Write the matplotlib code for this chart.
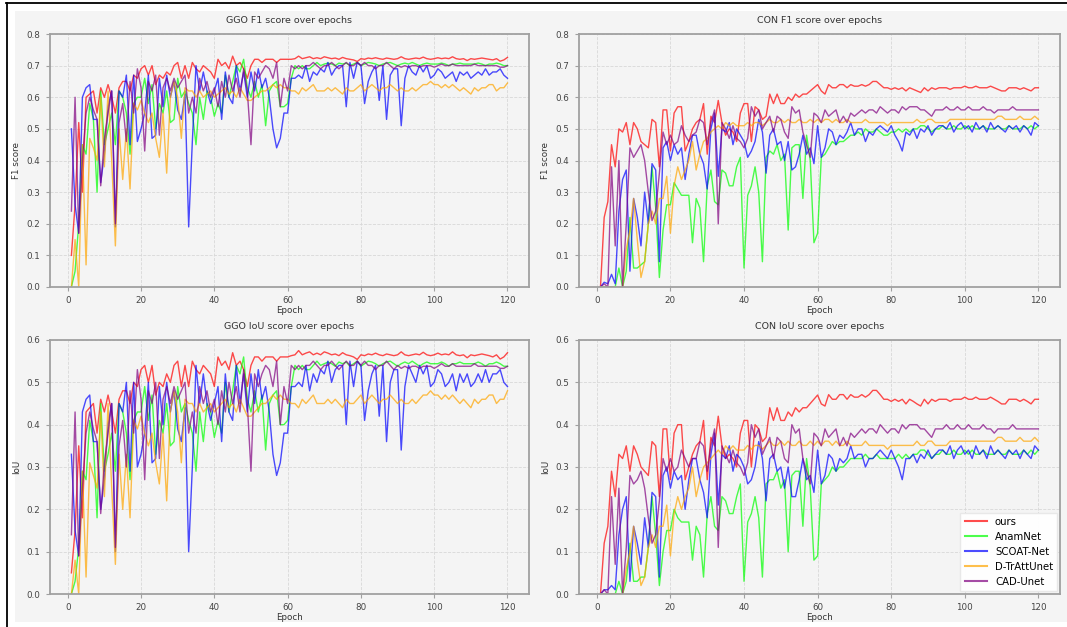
import numpy as np
import matplotlib
matplotlib.use("Agg")
import matplotlib.pyplot as plt
from matplotlib.patches import Rectangle
from matplotlib.lines import Line2D

epochs = np.arange(1, 121)
models = ["ours", "AnamNet", "SCOAT-Net", "D-TrAttUnet", "CAD-Unet"]
colors = ["red", "lime", "blue", "orange", "purple"]

# ---------------- GGO F1 ----------------
ggo_f1_ours = [0.10, 0.26, 0.52, 0.30, 0.60, 0.61, 0.62, 0.55, 0.63, 0.60,
               0.64, 0.60, 0.55, 0.63, 0.65, 0.65, 0.62, 0.67, 0.66, 0.69,
               0.70, 0.67, 0.70, 0.64, 0.67, 0.66, 0.68, 0.67, 0.70, 0.71,
               0.66, 0.70, 0.66, 0.71, 0.69, 0.68, 0.70, 0.69, 0.68, 0.66,
               0.72, 0.70, 0.71, 0.69, 0.73, 0.70, 0.71, 0.69, 0.66, 0.70,
               0.72, 0.72, 0.71, 0.72, 0.72, 0.72, 0.71, 0.72, 0.72, 0.72,
               0.720, 0.722, 0.730, 0.722, 0.725, 0.728, 0.722, 0.725, 0.722, 0.728,
               0.725, 0.722, 0.724, 0.720, 0.726, 0.722, 0.720, 0.718, 0.713, 0.722,
               0.720, 0.724, 0.722, 0.725, 0.722, 0.720, 0.724, 0.722, 0.720, 0.722,
               0.728, 0.722, 0.720, 0.722, 0.724, 0.722, 0.727, 0.722, 0.720, 0.722,
               0.725, 0.722, 0.724, 0.722, 0.728, 0.722, 0.720, 0.722, 0.716, 0.722,
               0.720, 0.722, 0.724, 0.722, 0.720, 0.718, 0.722, 0.714, 0.718, 0.726]
ggo_f1_anam = [0.00, 0.05, 0.20, 0.45, 0.42, 0.58, 0.53, 0.30, 0.62, 0.45,
               0.50, 0.55, 0.45, 0.62, 0.60, 0.55, 0.42, 0.58, 0.60, 0.60,
               0.66, 0.58, 0.64, 0.50, 0.58, 0.55, 0.62, 0.52, 0.53, 0.66,
               0.60, 0.62, 0.58, 0.55, 0.45, 0.60, 0.53, 0.62, 0.60, 0.54,
               0.58, 0.55, 0.67, 0.60, 0.65, 0.70, 0.68, 0.72, 0.63, 0.60,
               0.65, 0.60, 0.64, 0.51, 0.62, 0.64, 0.65, 0.57, 0.57, 0.58,
               0.66, 0.70, 0.69, 0.70, 0.69, 0.69, 0.70, 0.71, 0.70, 0.705,
               0.708, 0.705, 0.70, 0.708, 0.705, 0.708, 0.70, 0.705, 0.71, 0.70,
               0.705, 0.71, 0.708, 0.705, 0.70, 0.705, 0.708, 0.71, 0.705, 0.70,
               0.705, 0.708, 0.705, 0.71, 0.705, 0.70, 0.705, 0.708, 0.705, 0.705,
               0.705, 0.708, 0.705, 0.70, 0.705, 0.705, 0.708, 0.705, 0.705, 0.705,
               0.705, 0.708, 0.705, 0.70, 0.705, 0.705, 0.708, 0.705, 0.70, 0.70]
ggo_f1_scoat = [0.50, 0.26, 0.17, 0.60, 0.63, 0.64, 0.53, 0.53, 0.33, 0.42,
                0.57, 0.62, 0.19, 0.62, 0.60, 0.67, 0.45, 0.67, 0.46, 0.50,
                0.55, 0.67, 0.47, 0.48, 0.66, 0.57, 0.67, 0.60, 0.65, 0.56,
                0.53, 0.61, 0.19, 0.46, 0.70, 0.62, 0.68, 0.62, 0.58, 0.62,
                0.66, 0.53, 0.68, 0.60, 0.58, 0.70, 0.62, 0.68, 0.60, 0.68,
                0.62, 0.69, 0.63, 0.66, 0.60, 0.50, 0.44, 0.47, 0.55, 0.55,
                0.66, 0.66, 0.67, 0.66, 0.70, 0.65, 0.68, 0.67, 0.69, 0.68,
                0.71, 0.67, 0.69, 0.70, 0.70, 0.57, 0.71, 0.66, 0.71, 0.70,
                0.58, 0.65, 0.68, 0.70, 0.59, 0.70, 0.53, 0.67, 0.69, 0.69,
                0.51, 0.66, 0.70, 0.68, 0.67, 0.70, 0.68, 0.70, 0.66, 0.67,
                0.69, 0.68, 0.66, 0.67, 0.68, 0.65, 0.68, 0.67, 0.68, 0.66,
                0.67, 0.68, 0.67, 0.69, 0.67, 0.68, 0.68, 0.69, 0.67, 0.66]
ggo_f1_dtr = [0.00, 0.15, 0.00, 0.45, 0.07, 0.47, 0.44, 0.40, 0.60, 0.38,
              0.62, 0.40, 0.13, 0.50, 0.34, 0.50, 0.31, 0.58, 0.56, 0.59,
              0.55, 0.52, 0.55, 0.47, 0.41, 0.55, 0.36, 0.60, 0.65, 0.60,
              0.47, 0.63, 0.62, 0.62, 0.60, 0.62, 0.60, 0.61, 0.62, 0.60,
              0.61, 0.62, 0.63, 0.61, 0.62, 0.60, 0.63, 0.61, 0.59, 0.59,
              0.60, 0.61, 0.62, 0.62, 0.63, 0.64, 0.63, 0.64, 0.63, 0.63,
              0.62, 0.62, 0.61, 0.63, 0.62, 0.63, 0.64, 0.62, 0.62, 0.62,
              0.63, 0.62, 0.63, 0.62, 0.61, 0.63, 0.62, 0.62, 0.63, 0.64,
              0.62, 0.63, 0.64, 0.63, 0.62, 0.63, 0.63, 0.64, 0.63, 0.62,
              0.63, 0.62, 0.62, 0.63, 0.62, 0.63, 0.64, 0.64, 0.65, 0.64,
              0.64, 0.63, 0.64, 0.63, 0.64, 0.63, 0.62, 0.63, 0.62, 0.61,
              0.63, 0.62, 0.63, 0.63, 0.64, 0.64, 0.62, 0.63, 0.63, 0.645]
ggo_f1_cad = [0.24, 0.60, 0.17, 0.40, 0.55, 0.60, 0.56, 0.53, 0.32, 0.47,
              0.55, 0.62, 0.20, 0.52, 0.58, 0.46, 0.65, 0.55, 0.69, 0.63,
              0.43, 0.65, 0.62, 0.67, 0.48, 0.63, 0.66, 0.62, 0.66, 0.63,
              0.65, 0.67, 0.55, 0.60, 0.55, 0.66, 0.62, 0.65, 0.60, 0.63,
              0.57, 0.65, 0.60, 0.67, 0.62, 0.66, 0.60, 0.69, 0.62, 0.45,
              0.68, 0.66, 0.68, 0.70, 0.69, 0.66, 0.71, 0.57, 0.66, 0.62,
              0.70, 0.69, 0.70, 0.69, 0.70, 0.70, 0.71, 0.70, 0.69, 0.70,
              0.70, 0.71, 0.70, 0.69, 0.70, 0.71, 0.70, 0.70, 0.71, 0.70,
              0.71, 0.70, 0.70, 0.69, 0.70, 0.70, 0.71, 0.70, 0.69, 0.70,
              0.695, 0.70, 0.695, 0.70, 0.70, 0.695, 0.70, 0.70, 0.70, 0.695,
              0.70, 0.705, 0.70, 0.70, 0.705, 0.70, 0.70, 0.70, 0.70, 0.70,
              0.705, 0.70, 0.70, 0.70, 0.70, 0.70, 0.70, 0.695, 0.695, 0.70]

# ---------------- GGO IoU ----------------
ggo_iou_ours = [0.05, 0.15, 0.35, 0.18, 0.43, 0.44, 0.45, 0.38, 0.46, 0.43,
                0.47, 0.43, 0.38, 0.46, 0.48, 0.48, 0.45, 0.50, 0.49, 0.53,
                0.54, 0.50, 0.54, 0.47, 0.50, 0.49, 0.52, 0.50, 0.54, 0.55,
                0.49, 0.54, 0.49, 0.55, 0.53, 0.52, 0.54, 0.53, 0.52, 0.49,
                0.56, 0.54, 0.55, 0.53, 0.57, 0.54, 0.55, 0.53, 0.49, 0.54,
                0.56, 0.56, 0.55, 0.56, 0.56, 0.56, 0.55, 0.56, 0.56, 0.56,
                0.563, 0.565, 0.575, 0.565, 0.569, 0.572, 0.565, 0.569, 0.565, 0.572,
                0.569, 0.565, 0.567, 0.563, 0.570, 0.565, 0.563, 0.560, 0.554, 0.565,
                0.563, 0.567, 0.565, 0.569, 0.565, 0.563, 0.567, 0.565, 0.563, 0.565,
                0.572, 0.565, 0.563, 0.565, 0.567, 0.565, 0.571, 0.565, 0.563, 0.565,
                0.569, 0.565, 0.567, 0.565, 0.572, 0.565, 0.563, 0.565, 0.558, 0.565,
                0.563, 0.565, 0.567, 0.565, 0.563, 0.560, 0.565, 0.555, 0.560, 0.570]
ggo_iou_anam = [0.00, 0.03, 0.11, 0.29, 0.27, 0.41, 0.36, 0.18, 0.45, 0.29,
                0.33, 0.38, 0.29, 0.45, 0.43, 0.38, 0.27, 0.41, 0.43, 0.43,
                0.49, 0.41, 0.47, 0.33, 0.41, 0.38, 0.45, 0.35, 0.36, 0.49,
                0.43, 0.45, 0.41, 0.38, 0.29, 0.43, 0.36, 0.45, 0.43, 0.37,
                0.41, 0.38, 0.50, 0.43, 0.48, 0.54, 0.52, 0.56, 0.46, 0.43,
                0.48, 0.43, 0.47, 0.34, 0.45, 0.47, 0.48, 0.40, 0.40, 0.41,
                0.49, 0.54, 0.53, 0.54, 0.53, 0.53, 0.54, 0.55, 0.54, 0.544,
                0.548, 0.544, 0.538, 0.548, 0.544, 0.548, 0.538, 0.544, 0.550, 0.538,
                0.544, 0.550, 0.548, 0.544, 0.538, 0.544, 0.548, 0.550, 0.544, 0.538,
                0.544, 0.548, 0.544, 0.550, 0.544, 0.538, 0.544, 0.548, 0.544, 0.544,
                0.544, 0.548, 0.544, 0.538, 0.544, 0.544, 0.548, 0.544, 0.544, 0.544,
                0.544, 0.548, 0.544, 0.538, 0.544, 0.544, 0.548, 0.544, 0.538, 0.538]
ggo_iou_scoat = [0.33, 0.15, 0.09, 0.43, 0.46, 0.47, 0.36, 0.36, 0.20, 0.27,
                 0.40, 0.45, 0.10, 0.45, 0.43, 0.50, 0.29, 0.50, 0.30, 0.33,
                 0.38, 0.50, 0.31, 0.32, 0.49, 0.40, 0.50, 0.43, 0.48, 0.39,
                 0.36, 0.44, 0.10, 0.30, 0.54, 0.45, 0.52, 0.45, 0.41, 0.45,
                 0.49, 0.36, 0.52, 0.43, 0.41, 0.54, 0.45, 0.52, 0.43, 0.52,
                 0.45, 0.53, 0.46, 0.49, 0.43, 0.33, 0.28, 0.31, 0.38, 0.38,
                 0.49, 0.49, 0.50, 0.49, 0.54, 0.48, 0.52, 0.50, 0.53, 0.52,
                 0.55, 0.50, 0.53, 0.54, 0.54, 0.40, 0.55, 0.49, 0.55, 0.54,
                 0.41, 0.48, 0.52, 0.54, 0.42, 0.54, 0.36, 0.50, 0.53, 0.53,
                 0.34, 0.49, 0.54, 0.52, 0.50, 0.54, 0.52, 0.54, 0.49, 0.50,
                 0.53, 0.52, 0.49, 0.50, 0.52, 0.48, 0.52, 0.50, 0.52, 0.49,
                 0.50, 0.52, 0.50, 0.53, 0.50, 0.52, 0.52, 0.53, 0.50, 0.49]
ggo_iou_dtr = [0.00, 0.08, 0.00, 0.29, 0.04, 0.31, 0.28, 0.25, 0.43, 0.23,
               0.45, 0.25, 0.07, 0.33, 0.20, 0.33, 0.18, 0.41, 0.39, 0.42,
               0.38, 0.35, 0.38, 0.31, 0.26, 0.38, 0.22, 0.43, 0.48, 0.43,
               0.31, 0.46, 0.45, 0.45, 0.43, 0.45, 0.43, 0.44, 0.45, 0.43,
               0.44, 0.45, 0.46, 0.44, 0.45, 0.43, 0.46, 0.44, 0.42, 0.42,
               0.43, 0.44, 0.45, 0.45, 0.46, 0.47, 0.46, 0.47, 0.46, 0.46,
               0.45, 0.45, 0.44, 0.46, 0.45, 0.46, 0.47, 0.45, 0.45, 0.45,
               0.46, 0.45, 0.46, 0.45, 0.44, 0.46, 0.45, 0.45, 0.46, 0.47,
               0.45, 0.46, 0.47, 0.46, 0.45, 0.46, 0.46, 0.47, 0.46, 0.45,
               0.46, 0.45, 0.45, 0.46, 0.45, 0.46, 0.47, 0.47, 0.48, 0.47,
               0.47, 0.46, 0.47, 0.46, 0.47, 0.46, 0.45, 0.46, 0.45, 0.44,
               0.46, 0.45, 0.46, 0.46, 0.47, 0.47, 0.45, 0.46, 0.46, 0.48]
ggo_iou_cad = [0.14, 0.43, 0.09, 0.25, 0.38, 0.43, 0.39, 0.36, 0.19, 0.31,
               0.38, 0.45, 0.11, 0.35, 0.41, 0.30, 0.48, 0.38, 0.53, 0.46,
               0.27, 0.48, 0.45, 0.50, 0.32, 0.46, 0.49, 0.45, 0.49, 0.46,
               0.48, 0.50, 0.38, 0.43, 0.38, 0.49, 0.45, 0.48, 0.43, 0.46,
               0.40, 0.48, 0.43, 0.50, 0.45, 0.49, 0.43, 0.53, 0.45, 0.29,
               0.52, 0.49, 0.52, 0.54, 0.53, 0.49, 0.55, 0.40, 0.49, 0.45,
               0.54, 0.53, 0.54, 0.53, 0.54, 0.54, 0.55, 0.54, 0.53, 0.54,
               0.54, 0.55, 0.54, 0.53, 0.54, 0.55, 0.54, 0.54, 0.55, 0.54,
               0.55, 0.54, 0.54, 0.53, 0.54, 0.54, 0.55, 0.54, 0.53, 0.54,
               0.533, 0.538, 0.533, 0.538, 0.538, 0.533, 0.538, 0.538, 0.538, 0.533,
               0.538, 0.544, 0.538, 0.538, 0.544, 0.538, 0.538, 0.538, 0.538, 0.538,
               0.544, 0.538, 0.538, 0.538, 0.538, 0.538, 0.538, 0.533, 0.533, 0.538]

# ---------------- CON F1 ----------------
con_f1_ours = [0.00, 0.22, 0.27, 0.45, 0.38, 0.50, 0.49, 0.52, 0.45, 0.52,
               0.50, 0.46, 0.45, 0.44, 0.53, 0.52, 0.38, 0.56, 0.56, 0.43,
               0.55, 0.57, 0.57, 0.43, 0.46, 0.50, 0.52, 0.53, 0.58, 0.42,
               0.54, 0.52, 0.59, 0.52, 0.48, 0.50, 0.49, 0.46, 0.55, 0.58,
               0.58, 0.46, 0.57, 0.56, 0.53, 0.54, 0.61, 0.58, 0.61, 0.58,
               0.58, 0.60, 0.59, 0.61, 0.60, 0.61, 0.61, 0.62, 0.63, 0.64,
               0.62, 0.61, 0.64, 0.63, 0.63, 0.64, 0.64, 0.63, 0.64, 0.635,
               0.635, 0.64, 0.635, 0.64, 0.65, 0.65, 0.64, 0.63, 0.63, 0.625,
               0.63, 0.625, 0.63, 0.62, 0.63, 0.625, 0.62, 0.615, 0.63, 0.62,
               0.63, 0.625, 0.63, 0.63, 0.63, 0.625, 0.63, 0.63, 0.63, 0.635,
               0.63, 0.63, 0.635, 0.63, 0.63, 0.63, 0.635, 0.63, 0.625, 0.62,
               0.62, 0.63, 0.63, 0.63, 0.625, 0.63, 0.625, 0.62, 0.63, 0.63]
con_f1_anam = [0.00, 0.00, 0.00, 0.00, 0.00, 0.06, 0.00, 0.05, 0.22, 0.06,
               0.06, 0.07, 0.08, 0.20, 0.38, 0.25, 0.03, 0.18, 0.26, 0.26,
               0.33, 0.31, 0.29, 0.29, 0.29, 0.14, 0.28, 0.25, 0.08, 0.32,
               0.37, 0.27, 0.26, 0.37, 0.36, 0.32, 0.32, 0.38, 0.41, 0.06,
               0.29, 0.32, 0.38, 0.30, 0.08, 0.41, 0.43, 0.42, 0.45, 0.40,
               0.42, 0.18, 0.44, 0.45, 0.45, 0.28, 0.48, 0.40, 0.14, 0.17,
               0.41, 0.42, 0.44, 0.46, 0.45, 0.46, 0.46, 0.47, 0.48, 0.48,
               0.49, 0.48, 0.50, 0.49, 0.49, 0.50, 0.49, 0.48, 0.48, 0.49,
               0.49, 0.50, 0.49, 0.50, 0.49, 0.50, 0.50, 0.51, 0.51, 0.50,
               0.49, 0.50, 0.50, 0.51, 0.50, 0.50, 0.51, 0.50, 0.50, 0.51,
               0.50, 0.51, 0.50, 0.50, 0.51, 0.50, 0.50, 0.50, 0.51, 0.50,
               0.50, 0.51, 0.50, 0.50, 0.50, 0.51, 0.50, 0.51, 0.50, 0.51]
con_f1_scoat = [0.00, 0.015, 0.01, 0.04, 0.01, 0.24, 0.34, 0.37, 0.05, 0.28,
                0.22, 0.13, 0.30, 0.20, 0.39, 0.37, 0.08, 0.44, 0.46, 0.40,
                0.45, 0.42, 0.44, 0.34, 0.42, 0.48, 0.48, 0.42, 0.39, 0.31,
                0.50, 0.55, 0.35, 0.50, 0.49, 0.52, 0.45, 0.50, 0.48, 0.46,
                0.41, 0.43, 0.46, 0.53, 0.49, 0.36, 0.48, 0.50, 0.45, 0.46,
                0.40, 0.46, 0.37, 0.38, 0.42, 0.48, 0.42, 0.44, 0.39, 0.51,
                0.41, 0.44, 0.50, 0.49, 0.45, 0.48, 0.47, 0.49, 0.52, 0.48,
                0.50, 0.50, 0.46, 0.49, 0.48, 0.50, 0.51, 0.50, 0.49, 0.51,
                0.48, 0.46, 0.43, 0.49, 0.48, 0.50, 0.47, 0.50, 0.49, 0.51,
                0.48, 0.50, 0.51, 0.51, 0.50, 0.52, 0.49, 0.51, 0.52, 0.50,
                0.51, 0.49, 0.52, 0.50, 0.51, 0.49, 0.52, 0.50, 0.51, 0.50,
                0.49, 0.51, 0.50, 0.51, 0.49, 0.51, 0.50, 0.48, 0.52, 0.51]
con_f1_dtr = [0.00, 0.00, 0.00, 0.00, 0.00, 0.00, 0.00, 0.12, 0.18, 0.28,
              0.15, 0.03, 0.08, 0.20, 0.24, 0.20, 0.28, 0.28, 0.35, 0.17,
              0.32, 0.38, 0.34, 0.37, 0.40, 0.46, 0.37, 0.42, 0.46, 0.47,
              0.49, 0.50, 0.51, 0.50, 0.52, 0.51, 0.52, 0.51, 0.51, 0.51,
              0.52, 0.51, 0.52, 0.52, 0.51, 0.52, 0.53, 0.52, 0.52, 0.53,
              0.52, 0.53, 0.52, 0.52, 0.53, 0.52, 0.52, 0.53, 0.52, 0.53,
              0.52, 0.53, 0.53, 0.52, 0.53, 0.52, 0.52, 0.53, 0.52, 0.52,
              0.52, 0.52, 0.53, 0.52, 0.52, 0.52, 0.52, 0.52, 0.51, 0.52,
              0.52, 0.52, 0.52, 0.52, 0.52, 0.52, 0.53, 0.52, 0.52, 0.53,
              0.53, 0.52, 0.52, 0.52, 0.52, 0.53, 0.53, 0.53, 0.53, 0.53,
              0.53, 0.53, 0.53, 0.53, 0.53, 0.53, 0.53, 0.53, 0.54, 0.54,
              0.53, 0.53, 0.53, 0.53, 0.54, 0.53, 0.53, 0.53, 0.54, 0.53]
con_f1_cad = [0.00, 0.01, 0.00, 0.38, 0.13, 0.40, 0.00, 0.20, 0.44, 0.41,
              0.43, 0.45, 0.40, 0.30, 0.21, 0.24, 0.36, 0.49, 0.45, 0.48,
              0.45, 0.46, 0.51, 0.48, 0.46, 0.48, 0.49, 0.53, 0.52, 0.45,
              0.52, 0.56, 0.20, 0.52, 0.50, 0.47, 0.51, 0.47, 0.46, 0.44,
              0.47, 0.57, 0.54, 0.56, 0.50, 0.52, 0.54, 0.49, 0.54, 0.53,
              0.49, 0.47, 0.57, 0.55, 0.56, 0.49, 0.45, 0.41, 0.55, 0.54,
              0.52, 0.56, 0.54, 0.55, 0.56, 0.52, 0.54, 0.52, 0.55, 0.54,
              0.55, 0.56, 0.55, 0.56, 0.56, 0.55, 0.57, 0.56, 0.55, 0.56,
              0.56, 0.55, 0.57, 0.56, 0.57, 0.57, 0.57, 0.56, 0.56, 0.55,
              0.54, 0.56, 0.56, 0.56, 0.57, 0.56, 0.56, 0.57, 0.56, 0.56,
              0.57, 0.56, 0.56, 0.56, 0.57, 0.56, 0.56, 0.55, 0.56, 0.56,
              0.56, 0.56, 0.57, 0.56, 0.56, 0.56, 0.56, 0.56, 0.56, 0.56]

# ---------------- CON IoU ----------------
con_iou_ours = [0.00, 0.12, 0.16, 0.29, 0.23, 0.33, 0.32, 0.35, 0.29, 0.35,
                0.33, 0.30, 0.29, 0.28, 0.36, 0.35, 0.23, 0.39, 0.39, 0.27,
                0.38, 0.40, 0.40, 0.27, 0.30, 0.33, 0.35, 0.36, 0.41, 0.27,
                0.37, 0.35, 0.42, 0.35, 0.32, 0.33, 0.32, 0.30, 0.38, 0.41,
                0.41, 0.30, 0.40, 0.39, 0.36, 0.37, 0.44, 0.41, 0.44, 0.41,
                0.41, 0.43, 0.42, 0.44, 0.43, 0.44, 0.44, 0.45, 0.46, 0.47,
                0.449, 0.444, 0.471, 0.460, 0.460, 0.471, 0.471, 0.460, 0.471, 0.465,
                0.465, 0.471, 0.465, 0.471, 0.481, 0.481, 0.471, 0.460, 0.460, 0.455,
                0.460, 0.455, 0.460, 0.449, 0.460, 0.455, 0.449, 0.444, 0.460, 0.449,
                0.460, 0.455, 0.460, 0.460, 0.460, 0.455, 0.460, 0.460, 0.460, 0.465,
                0.460, 0.460, 0.465, 0.460, 0.460, 0.460, 0.465, 0.460, 0.455, 0.449,
                0.449, 0.460, 0.460, 0.460, 0.455, 0.460, 0.455, 0.449, 0.460, 0.460]
con_iou_anam = [0.00, 0.00, 0.00, 0.00, 0.00, 0.03, 0.00, 0.03, 0.12, 0.03,
                0.03, 0.04, 0.04, 0.11, 0.23, 0.14, 0.02, 0.10, 0.15, 0.15,
                0.20, 0.18, 0.17, 0.17, 0.17, 0.08, 0.16, 0.14, 0.04, 0.19,
                0.23, 0.16, 0.15, 0.23, 0.22, 0.19, 0.19, 0.23, 0.26, 0.03,
                0.17, 0.19, 0.23, 0.18, 0.04, 0.26, 0.27, 0.27, 0.29, 0.25,
                0.27, 0.10, 0.28, 0.29, 0.29, 0.16, 0.32, 0.25, 0.08, 0.09,
                0.26, 0.27, 0.28, 0.30, 0.29, 0.30, 0.30, 0.31, 0.32, 0.32,
                0.32, 0.32, 0.33, 0.32, 0.32, 0.33, 0.32, 0.32, 0.32, 0.32,
                0.32, 0.33, 0.32, 0.33, 0.32, 0.33, 0.33, 0.34, 0.34, 0.33,
                0.32, 0.33, 0.33, 0.34, 0.33, 0.33, 0.34, 0.33, 0.33, 0.34,
                0.33, 0.34, 0.33, 0.33, 0.34, 0.33, 0.33, 0.33, 0.34, 0.33,
                0.33, 0.34, 0.33, 0.33, 0.33, 0.34, 0.33, 0.34, 0.33, 0.34]
con_iou_scoat = [0.00, 0.01, 0.01, 0.02, 0.01, 0.14, 0.20, 0.23, 0.03, 0.16,
                 0.12, 0.07, 0.18, 0.11, 0.24, 0.23, 0.04, 0.28, 0.30, 0.25,
                 0.29, 0.27, 0.28, 0.20, 0.27, 0.32, 0.32, 0.27, 0.24, 0.18,
                 0.33, 0.38, 0.21, 0.33, 0.32, 0.35, 0.29, 0.33, 0.32, 0.30,
                 0.26, 0.27, 0.30, 0.36, 0.32, 0.22, 0.32, 0.33, 0.29, 0.30,
                 0.25, 0.30, 0.23, 0.23, 0.27, 0.32, 0.27, 0.28, 0.24, 0.34,
                 0.26, 0.28, 0.33, 0.32, 0.29, 0.32, 0.31, 0.32, 0.35, 0.32,
                 0.33, 0.33, 0.30, 0.32, 0.32, 0.33, 0.34, 0.33, 0.32, 0.34,
                 0.32, 0.30, 0.27, 0.32, 0.32, 0.33, 0.31, 0.33, 0.32, 0.34,
                 0.32, 0.33, 0.34, 0.34, 0.33, 0.35, 0.32, 0.34, 0.35, 0.33,
                 0.34, 0.32, 0.35, 0.33, 0.34, 0.32, 0.35, 0.33, 0.34, 0.33,
                 0.32, 0.34, 0.33, 0.34, 0.32, 0.34, 0.33, 0.32, 0.35, 0.34]
con_iou_dtr = [0.00, 0.00, 0.00, 0.00, 0.00, 0.00, 0.00, 0.06, 0.10, 0.16,
               0.08, 0.02, 0.04, 0.11, 0.14, 0.11, 0.16, 0.16, 0.21, 0.09,
               0.19, 0.23, 0.20, 0.23, 0.25, 0.30, 0.23, 0.27, 0.30, 0.31,
               0.32, 0.33, 0.34, 0.33, 0.35, 0.34, 0.35, 0.34, 0.34, 0.34,
               0.351, 0.342, 0.351, 0.351, 0.342, 0.351, 0.361, 0.351, 0.351, 0.361,
               0.351, 0.361, 0.351, 0.351, 0.361, 0.351, 0.351, 0.361, 0.351, 0.361,
               0.351, 0.361, 0.361, 0.351, 0.361, 0.351, 0.351, 0.361, 0.351, 0.351,
               0.351, 0.351, 0.361, 0.351, 0.351, 0.351, 0.351, 0.351, 0.342, 0.351,
               0.351, 0.351, 0.351, 0.351, 0.351, 0.351, 0.361, 0.351, 0.351, 0.361,
               0.361, 0.351, 0.351, 0.351, 0.351, 0.361, 0.361, 0.361, 0.361, 0.361,
               0.361, 0.361, 0.361, 0.361, 0.361, 0.361, 0.361, 0.361, 0.370, 0.370,
               0.361, 0.361, 0.361, 0.361, 0.370, 0.361, 0.361, 0.361, 0.370, 0.361]
con_iou_cad = [0.00, 0.01, 0.00, 0.23, 0.07, 0.25, 0.00, 0.11, 0.28, 0.26,
               0.27, 0.29, 0.25, 0.18, 0.12, 0.14, 0.22, 0.32, 0.29, 0.32,
               0.29, 0.30, 0.34, 0.32, 0.30, 0.32, 0.32, 0.36, 0.35, 0.29,
               0.35, 0.39, 0.11, 0.35, 0.33, 0.31, 0.34, 0.31, 0.30, 0.28,
               0.31, 0.40, 0.37, 0.39, 0.33, 0.35, 0.37, 0.32, 0.37, 0.36,
               0.32, 0.31, 0.40, 0.38, 0.39, 0.32, 0.29, 0.26, 0.38, 0.37,
               0.35, 0.39, 0.37, 0.38, 0.39, 0.35, 0.37, 0.35, 0.38, 0.37,
               0.38, 0.39, 0.38, 0.39, 0.39, 0.38, 0.40, 0.39, 0.38, 0.39,
               0.39, 0.38, 0.40, 0.39, 0.40, 0.40, 0.40, 0.39, 0.39, 0.38,
               0.37, 0.39, 0.39, 0.39, 0.40, 0.39, 0.39, 0.40, 0.39, 0.39,
               0.40, 0.39, 0.39, 0.39, 0.40, 0.39, 0.39, 0.38, 0.39, 0.39,
               0.39, 0.39, 0.40, 0.39, 0.39, 0.39, 0.39, 0.39, 0.39, 0.39]

panels = [
    ("GGO F1 score over epochs", "F1 score", 0.8,
     [ggo_f1_ours, ggo_f1_anam, ggo_f1_scoat, ggo_f1_dtr, ggo_f1_cad]),
    ("CON F1 score over epochs", "F1 score", 0.8,
     [con_f1_ours, con_f1_anam, con_f1_scoat, con_f1_dtr, con_f1_cad]),
    ("GGO IoU score over epochs", "IoU", 0.6,
     [ggo_iou_ours, ggo_iou_anam, ggo_iou_scoat, ggo_iou_dtr, ggo_iou_cad]),
    ("CON IoU score over epochs", "IoU", 0.6,
     [con_iou_ours, con_iou_anam, con_iou_scoat, con_iou_dtr, con_iou_cad]),
]

W, H = 1067, 627
fig = plt.figure(figsize=(W / 100, H / 100), dpi=100, facecolor="white")

# light grey backdrop of the original screenshot and its black frame
fig.patches.append(Rectangle((15 / W, 5 / H), 1 - 15 / W, 611 / H,
                             transform=fig.transFigure, facecolor="#f4f4f4",
                             edgecolor="none", zorder=-10))
fig.lines.append(Line2D([6 / W, 1], [1 - 2.5 / H, 1 - 2.5 / H],
                        transform=fig.transFigure, color="black", lw=1.3))
fig.lines.append(Line2D([6.5 / W, 6.5 / W], [0, 1 - 2.5 / H],
                        transform=fig.transFigure, color="black", lw=1.3))

positions = [
    (49.6 / W, 1 - 287 / H, 479.7 / W, 253 / H),
    (578.6 / W, 1 - 287 / H, 481.7 / W, 253 / H),
    (49.6 / W, 1 - 594 / H, 479.7 / W, 254 / H),
    (578.6 / W, 1 - 594 / H, 481.7 / W, 254 / H),
]

fs = 6.3
for (title, ylab, ytop, series), pos in zip(panels, positions):
    ax = fig.add_axes(pos)
    ax.set_facecolor("#f4f4f4")
    for vals, name, c in zip(series, models, colors):
        ax.plot(epochs, vals, color=c, alpha=0.7, lw=1.0, label=name)
    ax.set_ylim(0, ytop)
    ax.set_xticks([0, 20, 40, 60, 80, 100, 120])
    ax.set_yticks(np.arange(0, ytop + 0.001, 0.1))
    ax.yaxis.set_major_formatter(plt.FormatStrFormatter("%.1f"))
    ax.grid(True, color="#d8d8d8", linestyle="--", lw=0.6)
    ax.set_axisbelow(True)
    for s in ax.spines.values():
        s.set_color("#a0a0a0")
        s.set_linewidth(1.3)
    ax.tick_params(labelsize=fs, colors="#a0a0a0", labelcolor="#444444",
                   length=3, width=0.8)
    ax.set_title(title, fontsize=6.8, color="#333333", pad=8)
    ax.set_xlabel("Epoch", fontsize=fs, color="#333333", labelpad=1)
    ax.set_ylabel(ylab, fontsize=fs, color="#333333", labelpad=4)

leg = ax.legend(loc="lower right", fontsize=7.3, frameon=True, fancybox=False,
                handlelength=2.2, borderaxespad=0.3, labelspacing=0.5)
leg.get_frame().set_facecolor("white")
leg.get_frame().set_edgecolor("#e8e8e8")
leg.get_frame().set_alpha(0.95)
for line in leg.get_lines():
    line.set_linewidth(1.5)

fig.savefig("out.png", dpi=100, facecolor="white")
